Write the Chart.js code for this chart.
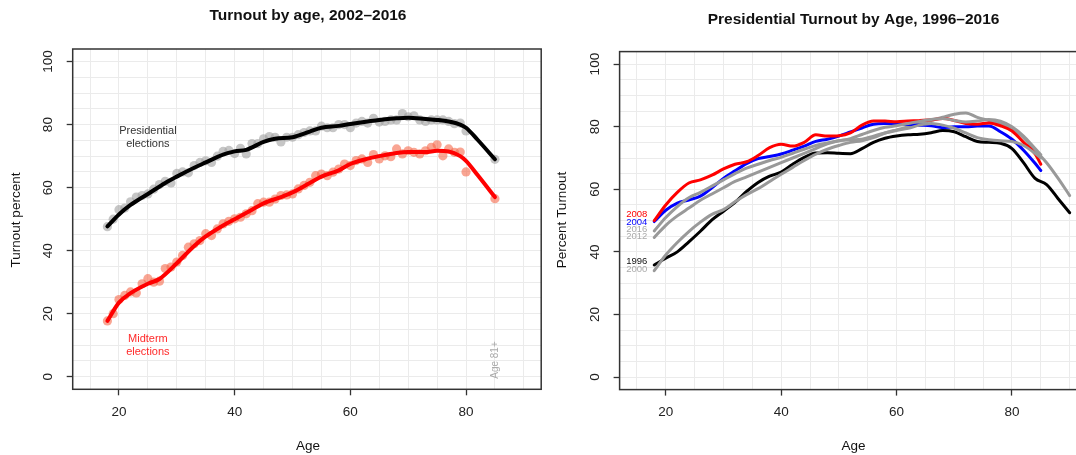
<!DOCTYPE html>
<html>
<head>
<meta charset="utf-8">
<script src="https://cdn.jsdelivr.net/npm/chart.js@4"></script>
<style>
html,body{margin:0;padding:0;background:#fff;overflow:hidden;width:1076px;height:455px}
canvas{position:absolute;top:0}
#left{left:0}
#right{left:540px}
</style>
</head>
<body>
<canvas id="left" width="560" height="455"></canvas>
<canvas id="right" width="620" height="455"></canvas>
<script>
/* ===============================
LEFT PANEL DATA - turnout by age, 2002-2016
=============================== */

// single ages 18-80, then the 81+ group plotted at 85
const ages=[18,19,20,21,22,23,24,25,26,27,28,29,30,31,32,33,34,35,36,37,38,39,40,41,42,43,44,45,46,47,48,49,
50,51,52,53,54,55,56,57,58,59,60,61,62,63,64,65,66,67,68,69,70,71,72,73,74,75,76,77,78,79,80,85]

const presTurnout=[47.6,50,53,53.5,55.5,57,57.5,58,59.5,61,62,61.5,64.5,65,64.7,67,68,68.5,68,70,71.5,71.8,70.8,72.5,70.7,74,74,75.5,76.2,76,74.5,76,
76,76.8,77.5,78,78,79.5,79,79,80,80,79,80.5,81,80.5,82,80.8,81,81.5,81.5,83.5,82.5,82.8,81.5,81,81.5,81.5,81.5,81,80.3,80.5,78,69]

const midTurnout=[17.7,20,24.5,25.8,26.9,26.6,29.5,31.1,30,30.3,34.3,34.8,36.4,38.5,41.1,42.2,43.2,45.4,44.8,46.9,48.5,49.3,50.1,50.6,51.7,52.7,54.9,55.4,55.4,56.4,57.5,57.7,
58,59.6,60.7,61.7,63.8,64.3,63.8,64.9,65.9,67.5,67,68.6,69.1,68,70.5,69.1,70.1,69.8,72.3,70.7,71.7,71.2,70.7,71.7,72.8,73.6,70.1,72.3,71.2,71.3,65,56.5]

// smoothed curves
const presSmoothAges=[18,20,22,25,28,30,33,35,38,40,42,45,47,50,53,55,58,60,63,65,68,70,73,75,77,79,80,82,85]
const presSmooth=[47.7,51.5,54.5,58,61.5,63.5,66.3,68,70.5,71.5,72,74.5,75.5,76,77.8,79,79.6,80.2,81,81.5,82,82.2,81.8,81.5,81,80,79,75.2,69]

const midSmoothAges=[18,20,22,25,27,30,33,35,38,40,43,45,48,50,53,55,58,60,63,65,68,70,73,75,77,79,80,82,85]
const midSmooth=[17.7,23.5,26.5,29.5,31,36,41.5,44.5,48,50,53,55,57,58.5,61.5,63.5,65.5,67.5,69.2,70,71,71.3,71.3,71.7,71.5,70,68.5,64,57]

/* ===============================
RIGHT PANEL DATA - presidential turnout by age, 1996-2016
=============================== */

const agesTo85=[18,20,22,24,26,28,30,32,34,36,38,40,42,44,46,48,50,52,54,56,58,60,62,64,66,68,70,72,74,76,78,80,82,84,85]
const agesTo90=[18,20,22,24,26,28,30,32,34,36,38,40,42,44,46,48,50,52,54,56,58,60,62,64,66,68,70,72,74,76,78,80,82,84,86,88,90]

const years=["1996","2000","2004","2008","2012","2016"]

const t1996=[35.8,38,40,43.2,46.6,50.2,53,55.8,59.3,62.2,64.2,65.5,68,70.2,71.6,71.7,71.5,71.4,73,75,76.3,77,77.4,77.6,78.1,78.8,78.4,76.8,75.3,75,74.7,73,68.5,63.5,61.5,57,52.5]
const t2000=[34,39,43,46.5,49.5,52,53.5,56,58.3,60.2,62.5,64.8,67,69.2,71.2,72.8,74,75,75.5,76.5,78,79,80,81,82,83,84,84.4,83,82,81,79.5,76.5,72.5,68.5,63.5,58]
const t2004=[49.7,53.3,55.6,56.6,57.8,60.5,63.5,65.9,68.2,69.8,70.5,71.3,72.5,73.8,75.3,76,77,78.3,79.6,80.8,81,80.9,80.7,80.5,80.3,79.7,80,80,80.2,80.2,78.4,76,72.5,68.3,66]
const t2008=[50,55,59,62,63,64.5,66.5,68,68.8,70.8,73.3,74.4,73.8,75,77.4,77,77.1,78,80.5,81.8,81.8,81.6,81.8,82,82.2,82.6,82,81,80.8,81.2,80.3,78.6,75,71.3,68]
const t2012=[44.6,48.5,51.5,54,56.5,58.5,60.5,62.5,64,65.5,67,68.5,70,71.5,73,74.5,75.5,75.8,76,77,78,78.8,79.5,80.5,81,80.5,79.5,78,76.5,75.8,75.5,75.3,74,71.5,70]
const t2016=[46.7,51,54.5,57.3,59,61,63,65,66.8,68,69.2,70.2,71.5,72.8,74,74.8,75.5,76.2,77.5,78.8,79.8,80.3,81,81.7,82.3,82.6,82,81.5,81.8,82.3,81.8,80,77,73,71]

const yearAges=[agesTo90,agesTo90,agesTo85,agesTo85,agesTo85,agesTo85]
const yearValues=[t1996,t2000,t2004,t2008,t2012,t2016]
const yearColors=["#000000","#999999","#0000ff","#ff0000","#999999","#999999"]
const yearTextColors=["#111111","#aaaaaa","#0000ff","#ff0000","#aaaaaa","#aaaaaa"]
// where each year label sits (turnout value), next to the line starts
const yearLabelAt=[36.9,34.4,49.5,52,44.9,47.2]


/* ===============================
SHARED STYLE
=============================== */

const FONT="'Liberation Sans', Arial, Helvetica, sans-serif"

const pts=(xs,ys)=>xs.map((x,i)=>({x:x,y:ys[i]}))

function scales(yWidth){
  const tickCol=c=>(c.tick && c.tick.value%20===0) ? "#333" : "rgba(0,0,0,0)"
  const lbl=v=>(v%20===0) ? String(v) : ""
  return {
    x:{
      type:"linear",min:12,max:93,
      afterFit:s=>{s.height=40},
      border:{display:false},
      grid:{color:"#ebebeb",lineWidth:1,tickLength:6,tickWidth:1.3,tickColor:tickCol},
      ticks:{stepSize:5,includeBounds:false,autoSkip:false,maxRotation:0,minRotation:0,padding:9,
        color:"#222",font:{family:FONT,size:13.5},callback:lbl}
    },
    y:{
      type:"linear",min:-4,max:104,
      afterFit:s=>{s.width=yWidth},
      border:{display:false},
      grid:{color:"#ebebeb",lineWidth:1,tickLength:6,tickWidth:1.3,tickColor:tickCol},
      ticks:{stepSize:5,includeBounds:false,autoSkip:false,minRotation:90,maxRotation:90,crossAlign:"center",padding:7,
        color:"#222",font:{family:FONT,size:13.5},callback:lbl}
    }
  }
}

// frame, titles and the text labels inside the plot
const decor={
  id:"decor",
  afterDraw(chart,args,o){
    const ctx=chart.ctx, a=chart.chartArea
    const sx=chart.scales.x, sy=chart.scales.y
    ctx.save()
    ctx.strokeStyle="#333"
    ctx.lineWidth=1.5
    ctx.strokeRect(a.left,a.top,a.right-a.left,a.bottom-a.top)

    ctx.fillStyle="#111"
    ctx.textAlign="center"
    ctx.textBaseline="middle"
    ctx.font="bold 15.5px "+FONT
    ctx.fillText(o.title,o.titleX,o.titleY)
    ctx.font="13.5px "+FONT
    ctx.fillText("Age",o.titleX,446)
    ctx.save()
    ctx.translate(o.yTitleX,220)
    ctx.rotate(-Math.PI/2)
    ctx.fillText(o.yTitle,0,0)
    ctx.restore()

    ;(o.notes||[]).forEach(n=>{
      ctx.save()
      ctx.fillStyle=n.color
      ctx.font=n.size+"px "+FONT
      ctx.textAlign=n.align||"center"
      ctx.translate(sx.getPixelForValue(n.x),sy.getPixelForValue(n.y))
      if(n.rotate) ctx.rotate(-Math.PI/2)
      n.lines.forEach((t,i)=>ctx.fillText(t,0,(i-(n.lines.length-1)/2)*n.size*1.2))
      ctx.restore()
    })
    ctx.restore()
  }
}

const base={
  responsive:false,
  animation:false,
  events:[],
  plugins:{legend:{display:false},tooltip:{enabled:false}}
}


/* ===============================
LEFT CHART
=============================== */

new Chart(document.getElementById("left"),{
  type:"scatter",
  data:{
    datasets:[
      {data:pts(presSmoothAges,presSmooth),showLine:true,borderColor:"#000",borderWidth:4,
        pointRadius:0,cubicInterpolationMode:"monotone",borderCapStyle:"round",borderJoinStyle:"round",order:0},
      {data:pts(midSmoothAges,midSmooth),showLine:true,borderColor:"#ff0000",borderWidth:4,
        pointRadius:0,cubicInterpolationMode:"monotone",borderCapStyle:"round",borderJoinStyle:"round",order:1},
      {data:pts(ages,presTurnout),backgroundColor:"rgba(160,160,160,0.6)",pointRadius:4.6,pointBorderWidth:0,order:2},
      {data:pts(ages,midTurnout),backgroundColor:"rgba(245,105,75,0.6)",pointRadius:4.6,pointBorderWidth:0,order:3}
    ]
  },
  options:Object.assign({},base,{
    layout:{padding:{left:0,top:49,right:18.8,bottom:25.7}},
    scales:scales(72.7),
    plugins:Object.assign({},base.plugins,{decor:{
      title:"Turnout by age, 2002\u20132016",titleX:308,titleY:16,
      yTitle:"Turnout percent",yTitleX:16.7,
      notes:[
        {lines:["Presidential","elections"],x:25,y:76,color:"#333",size:11},
        {lines:["Midterm","elections"],x:25,y:10,color:"#ff2a2a",size:11},
        {lines:["Age 81+"],x:85,y:5.3,color:"#aaa",size:10,rotate:true}
      ]
    }})
  }),
  plugins:[decor]
})


/* ===============================
RIGHT CHART
=============================== */

new Chart(document.getElementById("right"),{
  type:"scatter",
  data:{
    datasets:years.map((yr,i)=>({
      label:yr,
      data:pts(yearAges[i],yearValues[i]),
      showLine:true,borderColor:yearColors[i],borderWidth:3,pointRadius:0,
      cubicInterpolationMode:"monotone",borderCapStyle:"round",borderJoinStyle:"round",
      order:years.length-i
    }))
  },
  options:Object.assign({},base,{
    layout:{padding:{left:0,top:51.6,right:73,bottom:25.4}},
    scales:scales(79.6),
    plugins:Object.assign({},base.plugins,{decor:{
      title:"Presidential Turnout by Age, 1996\u20132016",titleX:313.6,titleY:19.3,
      yTitle:"Percent Turnout",yTitleX:22.6,
      notes:years.map((yr,i)=>({lines:[yr],x:16.8,y:yearLabelAt[i],color:yearTextColors[i],size:9.5,align:"right"}))
    }})
  }),
  plugins:[decor]
})
</script>
</body>
</html>
